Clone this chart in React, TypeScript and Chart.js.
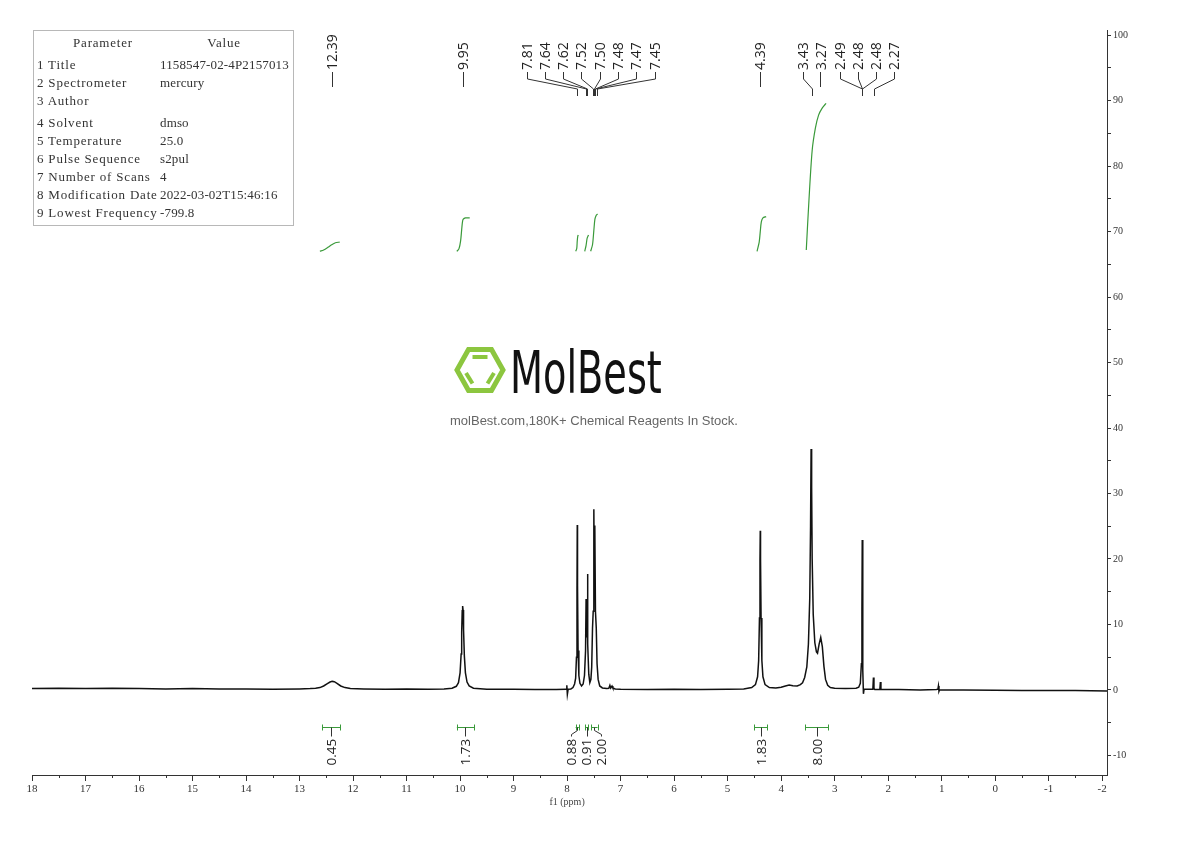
import { useEffect, useRef } from 'react';
import Chart from 'chart.js/auto';

type Pt = [number, number];

// ---- spectrum (ppm, intensity) ----
const baselineLeft: Pt[] = [[18, 0.2], [17.5, 0.25], [17, 0.2], [16.5, 0.25], [16, 0.2], [15.5, 0.15], [15, 0.2], [14.5, 0.15], [14, 0.15], [13.5, 0.1], [13, 0.15], [12.8, 0.2]];
const peak1239: Pt[] = [[12.7, 0.25], [12.62, 0.35], [12.55, 0.6], [12.48, 0.95], [12.43, 1.2], [12.39, 1.3], [12.35, 1.25], [12.3, 1.0], [12.23, 0.6], [12.15, 0.35], [12.05, 0.2]];
const baselineMid1: Pt[] = [[11.8, 0.15], [11.4, 0.1], [11, 0.15], [10.6, 0.1], [10.3, 0.15]];
const peak995: Pt[] = [[10.15, 0.25], [10.07, 0.55], [10.03, 1.1], [10.0, 2.6], [9.98, 5.5], [9.97, 8.8], [9.96, 12.1], [9.952, 12.8], [9.944, 12.2], [9.935, 9.2], [9.92, 5.2], [9.9, 2.6], [9.87, 1.2], [9.83, 0.6], [9.75, 0.25]];
const baselineMid2: Pt[] = [[9.5, 0.1], [9.0, 0.1], [8.6, 0.05], [8.2, 0.05], [8.02, 0.1], [8.005, 0.7], [7.995, -0.7], [7.98, 0.1], [7.93, 0.15]];
const aromatic: Pt[] = [[7.89, 0.35], [7.86, 0.9], [7.84, 1.8], [7.825, 5], [7.815, 15], [7.81, 25.2], [7.805, 16], [7.795, 6], [7.78, 2.2], [7.76, 1.0], [7.73, 0.6], [7.7, 0.9], [7.675, 2.2], [7.655, 6], [7.645, 13.9], [7.635, 8], [7.625, 12], [7.62, 17.7], [7.61, 7], [7.595, 2.4], [7.575, 1.1], [7.555, 1.6], [7.54, 3.5], [7.525, 9.4], [7.512, 12], [7.5, 27.6], [7.491, 17], [7.482, 25.1], [7.47, 12], [7.455, 9.5], [7.44, 4], [7.42, 1.6], [7.39, 0.6], [7.34, 0.3], [7.26, 0.2], [7.22, 0.25], [7.2, 0.7], [7.185, 0.3], [7.16, 0.6], [7.145, 0.3], [7.1, 0.15]];
const baselineMid3: Pt[] = [[7.0, 0.1], [6.5, 0.05], [6.0, 0.1], [5.5, 0.05], [5.0, 0.1], [4.7, 0.15]];
const peak439: Pt[] = [[4.55, 0.35], [4.48, 0.8], [4.44, 2.0], [4.42, 4.5], [4.405, 11], [4.395, 20], [4.39, 24.3], [4.385, 20], [4.375, 11], [4.36, 4.5], [4.34, 2.0], [4.3, 0.8], [4.22, 0.35]];
const hump385: Pt[] = [[4.1, 0.3], [4.0, 0.4], [3.92, 0.6], [3.85, 0.75], [3.78, 0.65], [3.7, 0.6], [3.64, 0.8]];
const water: Pt[] = [[3.6, 1.1], [3.56, 1.9], [3.52, 3.5], [3.49, 7], [3.465, 14], [3.45, 25], [3.44, 36.8], [3.43, 31], [3.42, 20], [3.4, 11.5], [3.37, 7.2], [3.34, 5.8], [3.32, 5.6], [3.29, 7.0], [3.26, 8.0], [3.23, 6.6], [3.2, 3.6], [3.17, 1.6], [3.13, 0.7], [3.08, 0.35], [3.0, 0.25]];
const dmso: Pt[] = [[2.8, 0.2], [2.6, 0.25], [2.55, 0.4], [2.52, 1.0], [2.5, 4], [2.49, 12], [2.484, 22.9], [2.478, 12], [2.47, 3], [2.462, -0.6], [2.45, 0.1], [2.4, 0.1]];
const smallPeaks: Pt[] = [[2.3, 0.1], [2.285, 0.2], [2.275, 1.9], [2.265, 0.2], [2.25, 0.05], [2.155, 0.1], [2.145, 1.2], [2.135, 0.05], [2.1, 0.05]];
const baselineRight: Pt[] = [[1.8, 0.05], [1.4, 0.0], [1.1, 0.05], [1.07, 0.1], [1.06, 0.6], [1.05, -0.2], [1.04, 0.0], [0.6, 0.0], [0.0, -0.05], [-0.5, -0.1], [-1.0, -0.1], [-1.5, -0.1], [-2.09, -0.15]];

// ---- integral curves ----
const integral1239: Pt[] = [[12.62, 67.0], [12.55, 67.2], [12.47, 67.6], [12.4, 68.0], [12.33, 68.3], [12.25, 68.4]];
const integral995: Pt[] = [[10.06, 67.0], [10.02, 67.4], [9.99, 68.6], [9.97, 70.3], [9.955, 71.5], [9.94, 71.9], [9.9, 72.1], [9.82, 72.1]];
const integral781: Pt[] = [[7.84, 67.0], [7.82, 67.4], [7.81, 68.6], [7.8, 69.3], [7.79, 69.5]];
const integral763: Pt[] = [[7.67, 67.0], [7.645, 67.9], [7.625, 69.0], [7.6, 69.5]];
const integral750: Pt[] = [[7.56, 67.0], [7.525, 68.0], [7.5, 70.2], [7.48, 71.9], [7.455, 72.5], [7.43, 72.7]];
const integral439: Pt[] = [[4.45, 67.0], [4.41, 68.4], [4.39, 70.0], [4.37, 71.5], [4.34, 72.1], [4.28, 72.3]];
const integralWater: Pt[] = [[3.53, 67.2], [3.48, 74.8], [3.42, 82.4], [3.36, 85.8], [3.3, 87.8], [3.23, 88.9], [3.16, 89.6]];

// ---- peak picking labels ----
const peakShifts = [12.39, 9.95, 7.81, 7.64, 7.62, 7.52, 7.5, 7.48, 7.47, 7.45, 4.39, 3.43, 3.27, 2.49, 2.48, 2.48, 2.27];

// ---- integration ranges ----
const integralFrom = [12.58, 10.06, 7.84, 7.66, 7.55, 4.5, 3.55];
const integralTo = [12.24, 9.74, 7.78, 7.6, 7.43, 4.26, 3.12];
const integralLabels = ['0.45', '1.73', '0.88', '0.91', '2.00', '1.83', '8.00'];
const integralBarLevel = -5.6;

// ---- axis ticks ----
const xTicks: number[] = [];
for (let v = -2; v <= 18; v += 0.5) xTicks.push(v);
const yTicks: number[] = [];
for (let v = -10; v <= 100; v += 5) yTicks.push(v);

// ---- parameter table ----
const paramNames = ['1 Title', '2 Spectrometer', '3 Author', '4 Solvent', '5 Temperature', '6 Pulse Sequence', '7 Number of Scans', '8 Modification Date', '9 Lowest Frequency'];
const paramValues = ['1158547-02-4P2157013', 'mercury', '', 'dmso', '25.0', 's2pul', '4', '2022-03-02T15:46:16', '-799.8'];
const paramRowY = [65, 83, 101, 123, 141, 159, 177, 195, 213];

const spectrum: Pt[] = [
  ...baselineLeft, ...peak1239, ...baselineMid1, ...peak995, ...baselineMid2, ...aromatic,
  ...baselineMid3, ...peak439, ...hump385, ...water, ...dmso, ...smallPeaks, ...baselineRight,
];
const integrals: Pt[][] = [integral1239, integral995, integral781, integral763, integral750, integral439, integralWater];

const GREEN = '#3a9a3a';

function spread(centers: number[], gap: number): number[] {
  let clusters = centers.map((c, i) => ({ idx: [i], mean: c }));
  const span = (cl: { idx: number[]; mean: number }) => {
    const start = cl.mean - ((cl.idx.length - 1) * gap) / 2;
    return [start, start + (cl.idx.length - 1) * gap];
  };
  let merged = true;
  while (merged) {
    merged = false;
    for (let i = 0; i < clusters.length - 1; i++) {
      const a = clusters[i];
      const b = clusters[i + 1];
      if (span(a)[1] + gap > span(b)[0] + 0.01) {
        const idx = a.idx.concat(b.idx);
        const mean = idx.reduce((s, k) => s + centers[k], 0) / idx.length;
        clusters.splice(i, 2, { idx, mean });
        merged = true;
        break;
      }
    }
  }
  const out: number[] = new Array(centers.length);
  clusters.forEach((cl) => {
    const [s] = span(cl);
    cl.idx.forEach((k, j) => (out[k] = s + j * gap));
  });
  return out;
}

const annotPlugin = {
  id: 'annot',
  afterDatasetsDraw(chart: any) {
    const { ctx, scales, chartArea } = chart;
    const xs = scales.x;
    const ys = scales.y;
    ctx.save();
    ctx.lineWidth = 1;

    // minor x ticks (half ppm)
    ctx.strokeStyle = '#333';
    ctx.beginPath();
    xTicks.forEach((v) => {
      if (Number.isInteger(v)) return;
      const p = Math.round(xs.getPixelForValue(v)) + 0.5;
      ctx.moveTo(p, chartArea.bottom);
      ctx.lineTo(p, chartArea.bottom + 3);
    });
    ctx.stroke();

    // peak labels
    const px = peakShifts.map((p) => xs.getPixelForValue(p));
    const lx = spread(px, 18.3);
    ctx.strokeStyle = '#333';
    ctx.fillStyle = '#222';
    ctx.font = '14px "Open Sans"';
    ctx.textAlign = 'left';
    ctx.textBaseline = 'alphabetic';
    peakShifts.forEach((p, i) => {
      const a = Math.round(lx[i]) + 0.5;
      const b = Math.round(px[i]) + 0.5;
      ctx.beginPath();
      if (Math.abs(lx[i] - px[i]) < 1.5) {
        ctx.moveTo(b, 72);
        ctx.lineTo(b, 87);
      } else {
        ctx.moveTo(a, 72);
        ctx.lineTo(a, 79);
        ctx.lineTo(b, 89);
        ctx.lineTo(b, 96);
      }
      ctx.stroke();
      ctx.save();
      ctx.translate(lx[i], 70);
      ctx.rotate(-Math.PI / 2);
      ctx.fillText(p.toFixed(2), 0, 5);
      ctx.restore();
    });

    // integration brackets
    const by = Math.round(ys.getPixelForValue(integralBarLevel)) + 0.5;
    const cx = integralFrom.map((f, i) => (xs.getPixelForValue(f) + xs.getPixelForValue(integralTo[i])) / 2);
    const ilx = spread(cx, 15);
    ctx.font = '13.5px "Open Sans"';
    integralFrom.forEach((f, i) => {
      const x1 = xs.getPixelForValue(f);
      const x2 = xs.getPixelForValue(integralTo[i]);
      ctx.strokeStyle = GREEN;
      ctx.beginPath();
      ctx.moveTo(x1, by);
      ctx.lineTo(x2, by);
      ctx.moveTo(Math.round(x1) + 0.5, by - 3);
      ctx.lineTo(Math.round(x1) + 0.5, by + 3);
      ctx.moveTo(Math.round(x2) + 0.5, by - 3);
      ctx.lineTo(Math.round(x2) + 0.5, by + 3);
      ctx.stroke();
      const c = Math.round(cx[i]) + 0.5;
      const l = Math.round(ilx[i]) + 0.5;
      ctx.strokeStyle = '#333';
      ctx.beginPath();
      if (Math.abs(cx[i] - ilx[i]) < 1.5) {
        ctx.moveTo(c, by);
        ctx.lineTo(c, by + 9);
      } else {
        ctx.moveTo(c, by);
        ctx.lineTo(c, by + 3);
        ctx.lineTo(l, by + 7);
        ctx.lineTo(l, by + 9);
      }
      ctx.stroke();
      ctx.save();
      ctx.translate(ilx[i], by + 38);
      ctx.rotate(-Math.PI / 2);
      ctx.fillStyle = '#222';
      ctx.fillText(integralLabels[i], 0, 5);
      ctx.restore();
    });

    // axis title
    ctx.fillStyle = '#444';
    ctx.font = '10px "Liberation Serif"';
    ctx.textAlign = 'center';
    ctx.textBaseline = 'middle';
    ctx.fillText('f1 (ppm)', (chartArea.left + xs.getPixelForValue(-2)) / 2, 802);
    ctx.restore();
  },
};

export default function App() {
  const ref = useRef<HTMLCanvasElement>(null);
  useEffect(() => {
    const datasets: any[] = integrals.map((seg) => ({
      data: seg.map(([x, y]) => ({ x, y })),
      borderColor: GREEN,
      borderWidth: 1.2,
      pointRadius: 0,
      tension: 0.3,
    }));
    datasets.push({
      data: spectrum.map(([x, y]) => ({ x, y })),
      borderColor: '#111',
      borderWidth: 1.5,
      pointRadius: 0,
      tension: 0,
    });
    const chart = new Chart(ref.current!, {
      type: 'line',
      data: { datasets },
      options: {
        responsive: false,
        animation: false,
        devicePixelRatio: 1,
        layout: { padding: { left: 32, top: 30, right: 0, bottom: 0 } },
        plugins: { legend: { display: false }, tooltip: { enabled: false } },
        scales: {
          x: {
            type: 'linear',
            reverse: true,
            min: -2.09,
            max: 18,
            position: 'bottom',
            afterBuildTicks: (s: any) => {
              s.ticks = xTicks.map((v) => ({ value: v }));
            },
            afterFit: (s: any) => {
              s.height = 66;
            },
            grid: {
              drawOnChartArea: false, drawTicks: true, tickLength: 6,
              tickColor: (c: any) => (c.tick && Number.isInteger(c.tick.value) ? '#333' : 'rgba(0,0,0,0)'),
            },
            border: { display: true, color: '#333', width: 1 },
            ticks: {
              autoSkip: false,
              maxRotation: 0,
              padding: 2,
              color: '#333',
              font: { family: 'Liberation Serif', size: 11 },
              callback: (v: any) => (Number.isInteger(v) ? String(v) : ''),
            },
          },
          y: {
            type: 'linear',
            position: 'right',
            min: -13,
            max: 100.8,
            afterBuildTicks: (s: any) => {
              s.ticks = yTicks.map((v) => ({ value: v }));
            },
            afterFit: (s: any) => {
              s.width = 83;
            },
            grid: { drawOnChartArea: false, drawTicks: true, tickLength: 4, color: '#333' },
            border: { display: true, color: '#333', width: 1 },
            ticks: {
              autoSkip: false,
              padding: 2,
              color: '#333',
              font: { family: 'Liberation Serif', size: 10 },
              callback: (v: any) => (v % 10 === 0 ? String(v) : ''),
            },
          },
        },
      },
      plugins: [annotPlugin],
    });
    return () => chart.destroy();
  }, []);

  const serif = '"Liberation Serif", serif';
  return (
    <div style={{ position: 'absolute', left: 0, top: 0, width: 1190, height: 841, background: '#fff', overflow: 'hidden' }}>
      <canvas ref={ref} width={1190} height={841} style={{ position: 'absolute', left: 0, top: 0, width: 1190, height: 841 }} />
      <div
        style={{
          position: 'absolute', left: 33, top: 30, width: 259, height: 194,
          border: '1px solid #b8b8b8', fontFamily: serif, fontSize: 13, color: '#333',
        }}
      >
        <div style={{ position: 'absolute', left: 0, width: 138, top: 5, lineHeight: '14px', textAlign: 'center', letterSpacing: '0.8px' }}>Parameter</div>
        <div style={{ position: 'absolute', left: 150, width: 80, top: 5, lineHeight: '14px', textAlign: 'center', letterSpacing: '0.8px' }}>Value</div>
        {paramNames.map((n, i) => (
          <div key={n} style={{ position: 'absolute', left: 3, top: paramRowY[i] - 38, lineHeight: '14px', whiteSpace: 'nowrap', letterSpacing: '0.8px' }}>{n}</div>
        ))}
        {paramValues.map((v, i) => (
          <div key={'v' + i} style={{ position: 'absolute', left: 126, top: paramRowY[i] - 38, lineHeight: '14px', whiteSpace: 'nowrap', letterSpacing: '0.15px' }}>{v}</div>
        ))}
      </div>
      <svg style={{ position: 'absolute', left: 454, top: 346 }} width={52} height={48} viewBox="0 0 52 48">
        <polygon points="3,24 14.5,3.5 37.5,3.5 49,24 37.5,44.5 14.5,44.5" fill="none" stroke="#8cc63f" strokeWidth={5} strokeLinejoin="miter" />
        <line x1={18.5} y1={11} x2={33.5} y2={11} stroke="#8cc63f" strokeWidth={4} />
        <line x1={12} y1={27} x2={18.5} y2={37.5} stroke="#8cc63f" strokeWidth={4} />
        <line x1={40} y1={27} x2={33.5} y2={37.5} stroke="#8cc63f" strokeWidth={4} />
      </svg>
      <div
        style={{
          position: 'absolute', left: 510, top: 344, fontFamily: '"DejaVu Sans", sans-serif', fontWeight: 400,
          fontSize: 58, lineHeight: 1, color: '#111', transform: 'scaleX(0.66)', transformOrigin: 'left top', whiteSpace: 'nowrap',
        }}
      >
        MolBest
      </div>
      <div
        style={{
          position: 'absolute', left: 394, width: 400, top: 413, textAlign: 'center', fontFamily: '"Liberation Sans", Arial, sans-serif',
          fontSize: 13, lineHeight: '16px', color: '#666', whiteSpace: 'nowrap',
        }}
      >
        molBest.com,180K+ Chemical Reagents In Stock.
      </div>
    </div>
  );
}
